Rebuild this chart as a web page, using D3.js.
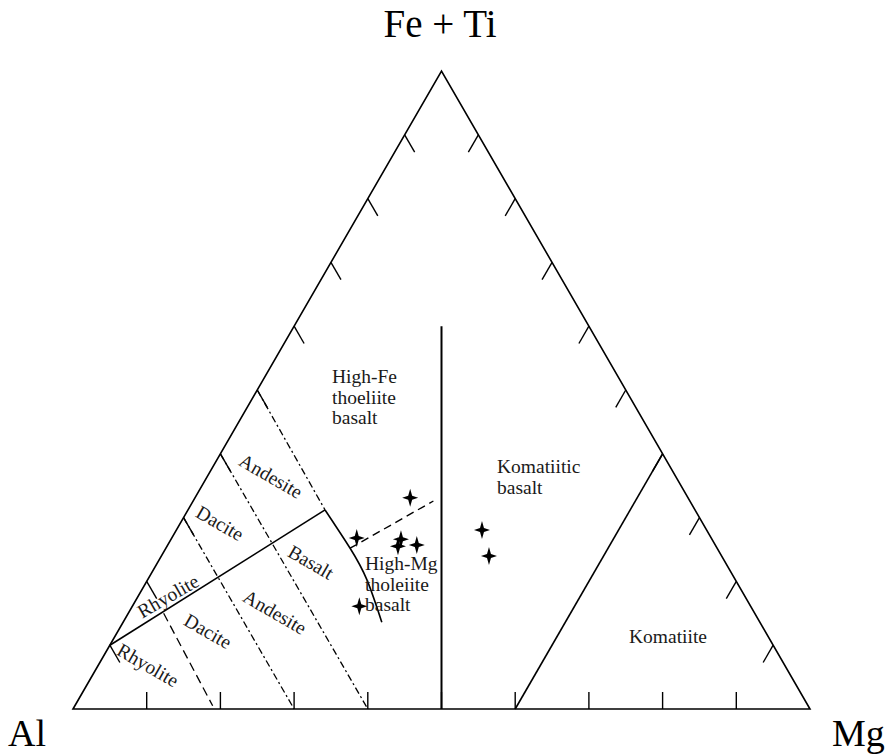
<!DOCTYPE html>
<html>
<head>
<meta charset="utf-8">
<script src="https://cdn.jsdelivr.net/npm/d3@7"></script>
<style>
  html, body { margin: 0; padding: 0; background: #fff; }
  svg { display: block; }
  text { font-family: "Liberation Serif", "DejaVu Serif", serif; }
</style>
</head>
<body>
<svg id="chart" width="891" height="754"></svg>
<script>
// Jensen cation plot: Al – (Fe + Ti) – Mg, cation proportions in percent.

// Corner labels
const vertexLabels = ["Al", "Fe + Ti", "Mg"];

// Tick fractions along each side
const tickFractions = [0.1, 0.2, 0.3, 0.4, 0.5, 0.6, 0.7, 0.8, 0.9];

// Samples (Al, Fe+Ti, Mg)
const sampleAl = [37.7, 48.1, 42.2, 43.1, 40.5, 53.1, 30.5, 31.6];
const sampleFe = [33.1, 26.8, 26.6, 25.5, 25.7, 16.1, 28.1, 24.0];
const sampleMg = [29.2, 25.1, 31.2, 31.3, 33.8, 30.8, 41.5, 44.5];

// Field boundaries, as [Al, Fe+Ti, Mg] points
const thCaBoundary = [[90, 10, 0], [50.2, 31.2, 18.6]];
const basaltCurve = [[50.2, 31.2, 18.6], [49.8, 25.2, 25.0], [50.0, 20.2, 29.8], [51.3, 13.6, 35.1]];
const hftHmtDivide = [[49.8, 25.2, 25.0], [34.8, 32.6, 32.6]];
const komatiiticDivide = [[50, 0, 50], [20, 60, 20]];
const komatiiteBoundary = [[40, 0, 60], [0, 40, 60]];
const andesiteBasaltDivide = [[50, 50, 0], [50.2, 31.2, 18.6]];
const daciteAndesiteDivide = [[60, 40, 0], [60, 0, 40]];
const rhyoliteDaciteDivide = [[70, 30, 0], [70, 0, 30]];
const lowerRhyoliteDivide = [[80.2, 15, 4.8], [80.8, 0.5, 18.7]];

// Field names
const fieldNames = [
  "High-Fe|thoeliite|basalt", "Komatiitic|basalt", "High-Mg|tholeiite|basalt", "Komatiite",
  "Andesite", "Dacite", "Rhyolite", "Basalt", "Andesite", "Dacite", "Rhyolite"
];

// ---- layout ----
const svg = d3.select("#chart");
const x = d3.scaleLinear().domain([0, 1]).range([73, 810]);
const y = d3.scaleLinear().domain([0, 1]).range([709, 71]);

function proj(p) {
  const s = p[0] + p[1] + p[2];
  const f = p[1] / s, m = p[2] / s;
  return [x(m + f / 2), y(f)];
}

const line = d3.line().x(d => proj(d)[0]).y(d => proj(d)[1]);
const curve = d3.line().x(d => proj(d)[0]).y(d => proj(d)[1]).curve(d3.curveNatural);

const g = svg.append("g").attr("fill", "none").attr("stroke", "#000");

// outline
g.append("path")
  .attr("d", line([[100, 0, 0], [0, 100, 0], [0, 0, 100], [100, 0, 0]]) + "Z")
  .attr("stroke-width", 1.6).attr("stroke-linejoin", "miter");

// ticks
const tickLen = 20;
tickFractions.forEach(t => {
  const b = proj([1 - t, 0, t]);
  g.append("line").attr("x1", b[0]).attr("y1", b[1]).attr("x2", b[0]).attr("y2", b[1] - 17)
    .attr("stroke-width", 1.4);
  const l = proj([1 - t, t, 0]);
  g.append("line").attr("x1", l[0]).attr("y1", l[1])
    .attr("x2", l[0] + tickLen * 0.5).attr("y2", l[1] + tickLen * Math.sqrt(3) / 2)
    .attr("stroke-width", 1.4);
  const r = proj([0, t, 1 - t]);
  g.append("line").attr("x1", r[0]).attr("y1", r[1])
    .attr("x2", r[0] - tickLen * 0.5).attr("y2", r[1] + tickLen * Math.sqrt(3) / 2)
    .attr("stroke-width", 1.4);
});

// solid boundaries
g.append("path").attr("d", line(thCaBoundary)).attr("stroke-width", 1.6);
g.append("path").attr("d", curve(basaltCurve)).attr("stroke-width", 1.6);
g.append("path").attr("d", line(komatiiticDivide)).attr("stroke-width", 2);
g.append("path").attr("d", line(komatiiteBoundary)).attr("stroke-width", 1.6);

// dashed tholeiite divide
g.append("path").attr("d", line(hftHmtDivide)).attr("stroke-width", 1.4)
  .attr("stroke-dasharray", "8,5");

// volcanic rock dividers
[andesiteBasaltDivide, daciteAndesiteDivide, rhyoliteDaciteDivide].forEach(d => {
  g.append("path").attr("d", line(d)).attr("stroke-width", 1.3)
    .attr("stroke-dasharray", "7,3,2,3");
});
g.append("path").attr("d", line(lowerRhyoliteDivide)).attr("stroke-width", 1.3)
  .attr("stroke-dasharray", "9,5");

// corner labels
const cornerFont = 38;
svg.append("text").text(vertexLabels[0]).attr("x", 8).attr("y", 746)
  .attr("font-size", cornerFont).attr("fill", "#000");
svg.append("text").text(vertexLabels[1]).attr("x", 440).attr("y", 37)
  .attr("text-anchor", "middle").attr("font-size", 39).attr("fill", "#000");
svg.append("text").text(vertexLabels[2]).attr("x", 832).attr("y", 746)
  .attr("font-size", cornerFont).attr("fill", "#000");

// field labels: [x, y, rotation, anchor]
const fieldPlacement = [
  [332, 383, 0, "start"],
  [497, 473, 0, "start"],
  [365, 570, 0, "start"],
  [668, 643, 0, "middle"],
  [271, 476, 30, "middle"],
  [220, 523, 30, "middle"],
  [168, 596, -30, "middle"],
  [311, 562, 30, "middle"],
  [275, 612, 30, "middle"],
  [208, 631, 30, "middle"],
  [148, 665, 30, "middle"]
];
const labelFont = 19.5;
fieldNames.forEach((name, i) => {
  const [lx, ly, rot, anchor] = fieldPlacement[i];
  const t = svg.append("text")
    .attr("font-size", labelFont).attr("fill", "#1a1a1a")
    .attr("text-anchor", anchor)
    .attr("transform", `translate(${lx},${ly}) rotate(${rot})`);
  const lines = name.split("|");
  lines.forEach((s, k) => {
    t.append("tspan").attr("x", 0).attr("y", rot ? 0 : k * 20.5)
      .attr("dy", rot ? "0.35em" : 0).text(s);
  });
});

// four-pointed star marker
function starPath(rx, ry, ri) {
  const pts = [];
  for (let k = 0; k < 8; k++) {
    const a = k * Math.PI / 4 - Math.PI / 2;
    const outer = k % 2 === 0;
    const rX = outer ? rx : ri, rY = outer ? ry : ri;
    pts.push([Math.cos(a) * rX, Math.sin(a) * rY]);
  }
  return "M" + pts.map(p => p[0].toFixed(2) + "," + p[1].toFixed(2)).join("L") + "Z";
}

const samples = sampleAl.map((a, i) => [a, sampleFe[i], sampleMg[i]]);
svg.append("g").selectAll("path").data(samples).join("path")
  .attr("d", starPath(8, 9, 2.8))
  .attr("transform", d => { const p = proj(d); return `translate(${p[0]},${p[1]})`; })
  .attr("fill", "#000");
</script>
</body>
</html>
